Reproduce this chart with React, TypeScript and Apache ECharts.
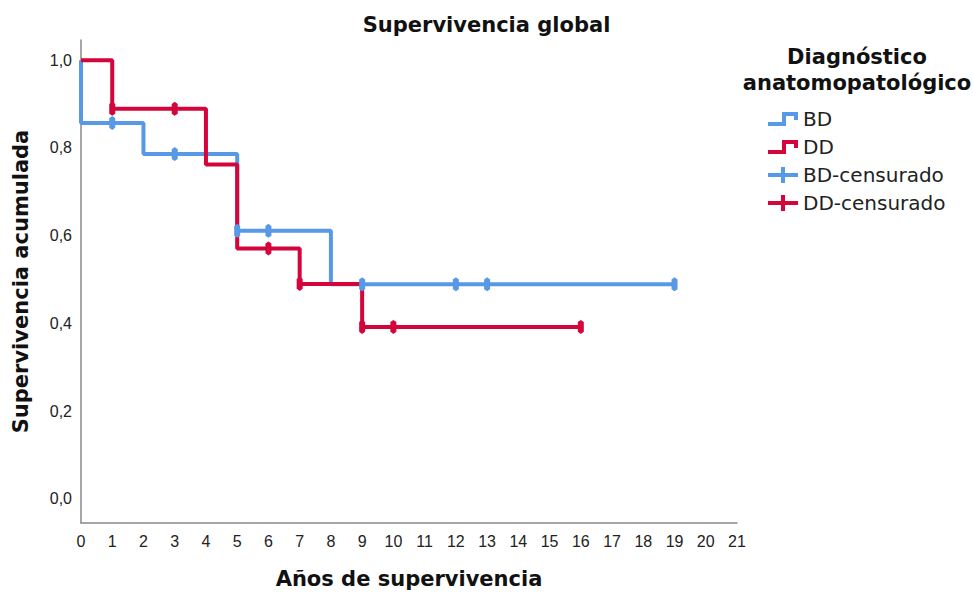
import React, { useEffect, useRef } from "react";
import * as echarts from "echarts";

const chartTitle = "Supervivencia global";
const xAxisName = "Años de supervivencia";
const yAxisName = "Supervivencia acumulada";
const legendTitle = "Diagnóstico\nanatomopatológico";
const seriesNames = ["BD", "DD", "BD-censurado", "DD-censurado"];

const bdTimes = [0, 0, 2, 5, 8, 19];
const bdSurvival = [1.0, 0.857, 0.786, 0.611, 0.489, 0.489];
const ddTimes = [0, 1, 4, 5, 7, 9, 16];
const ddSurvival = [1.0, 0.889, 0.762, 0.571, 0.49, 0.392, 0.392];
const bdCensorTimes = [1, 3, 5, 6, 9, 12, 13, 19];
const bdCensorSurvival = [0.857, 0.786, 0.611, 0.611, 0.489, 0.489, 0.489, 0.489];
const ddCensorTimes = [1, 3, 6, 7, 9, 10, 16];
const ddCensorSurvival = [0.889, 0.889, 0.571, 0.49, 0.392, 0.392, 0.392];
const yTickValues = [0, 0.2, 0.4, 0.6, 0.8, 1.0];

const BLUE = "#5799e6";
const RED = "#d3053b";

const zip = (a: number[], b: number[]) => a.map((v, i) => [v, b[i]]);

const stepIcon =
  "path://M0,10 L14,10 L14,0 L30,0 L30,8 L26,8 L26,4 L18,4 L18,14 L0,14 Z";
const plusIcon =
  "path://M0,6 L13,6 L13,0 L17,0 L17,6 L30,6 L30,10 L17,10 L17,16 L13,16 L13,10 L0,10 Z";
const censorMark = "path://M2,0 L4,2 L4,11 L2,13 L0,11 L0,2 Z";

export default function App() {
  const ref = useRef<HTMLDivElement>(null);
  useEffect(() => {
    document.body.style.margin = "0";
    const chart = echarts.init(ref.current!, null, { renderer: "svg" });
    const boldFont = "DejaVu Sans";
    chart.setOption({
      animation: false,
      backgroundColor: "#ffffff",
      title: {
        text: chartTitle,
        left: "center",
        top: 9,
        textStyle: { fontFamily: boldFont, fontWeight: "bold", fontSize: 21, color: "#111" },
      },
      graphic: [
        {
          type: "text",
          x: 857,
          y: 44,
          style: {
            text: legendTitle,
            textAlign: "center",
            fontFamily: boldFont,
            fontWeight: "bold",
            fontSize: 21,
            lineHeight: 26,
            fill: "#111",
          },
        },
      ],
      legend: {
        orient: "vertical",
        left: 763,
        top: 104,
        itemWidth: 30,
        itemHeight: 16,
        itemGap: 8,
        textStyle: { fontFamily: "DejaVu Sans", fontSize: 20, color: "#222" },
        data: [
          { name: seriesNames[0], icon: stepIcon },
          { name: seriesNames[1], icon: stepIcon },
          { name: seriesNames[2], icon: plusIcon },
          { name: seriesNames[3], icon: plusIcon },
        ],
      },
      grid: { left: 81, right: 236, top: 40, bottom: 71 },
      xAxis: {
        type: "value",
        min: 0,
        max: 21,
        interval: 1,
        name: xAxisName,
        nameLocation: "middle",
        nameGap: 45,
        nameTextStyle: { fontFamily: boldFont, fontWeight: "bold", fontSize: 21, color: "#111" },
        axisLine: { show: true, onZero: false, lineStyle: { color: "#8a8a8a", width: 1.5 } },
        axisTick: { show: false },
        splitLine: { show: false },
        axisLabel: { fontFamily: "Liberation Sans", fontSize: 16, color: "#222", margin: 10 },
      },
      yAxis: {
        type: "value",
        min: -0.055,
        max: 1.046,
        name: yAxisName,
        nameLocation: "middle",
        nameGap: 50,
        nameTextStyle: { fontFamily: boldFont, fontWeight: "bold", fontSize: 21, color: "#111" },
        axisLine: { show: true, onZero: false, lineStyle: { color: "#8a8a8a", width: 1.5 } },
        axisTick: { show: false },
        splitLine: { show: false },
        axisLabel: {
          customValues: yTickValues,
          fontFamily: "Liberation Sans",
          fontSize: 16,
          color: "#222",
          margin: 9,
          formatter: (v: number) => v.toFixed(1).replace(".", ","),
        },
      },
      series: [
        {
          name: seriesNames[0],
          type: "line",
          step: "end",
          data: zip(bdTimes, bdSurvival),
          showSymbol: false,
          color: BLUE,
          lineStyle: { color: BLUE, width: 4 },
          z: 2,
        },
        {
          name: seriesNames[1],
          type: "line",
          step: "end",
          data: zip(ddTimes, ddSurvival),
          showSymbol: false,
          color: RED,
          lineStyle: { color: RED, width: 4 },
          z: 3,
        },
        {
          name: seriesNames[2],
          type: "scatter",
          data: zip(bdCensorTimes, bdCensorSurvival),
          symbol: censorMark,
          symbolSize: [6, 14],
          itemStyle: { color: BLUE, opacity: 1 },
          color: BLUE,
          z: 4,
        },
        {
          name: seriesNames[3],
          type: "scatter",
          data: zip(ddCensorTimes, ddCensorSurvival),
          symbol: censorMark,
          symbolSize: [6, 14],
          itemStyle: { color: RED, opacity: 1 },
          color: RED,
          z: 5,
        },
      ],
    });
    return () => chart.dispose();
  }, []);
  return <div ref={ref} style={{ width: 973, height: 594 }} />;
}
